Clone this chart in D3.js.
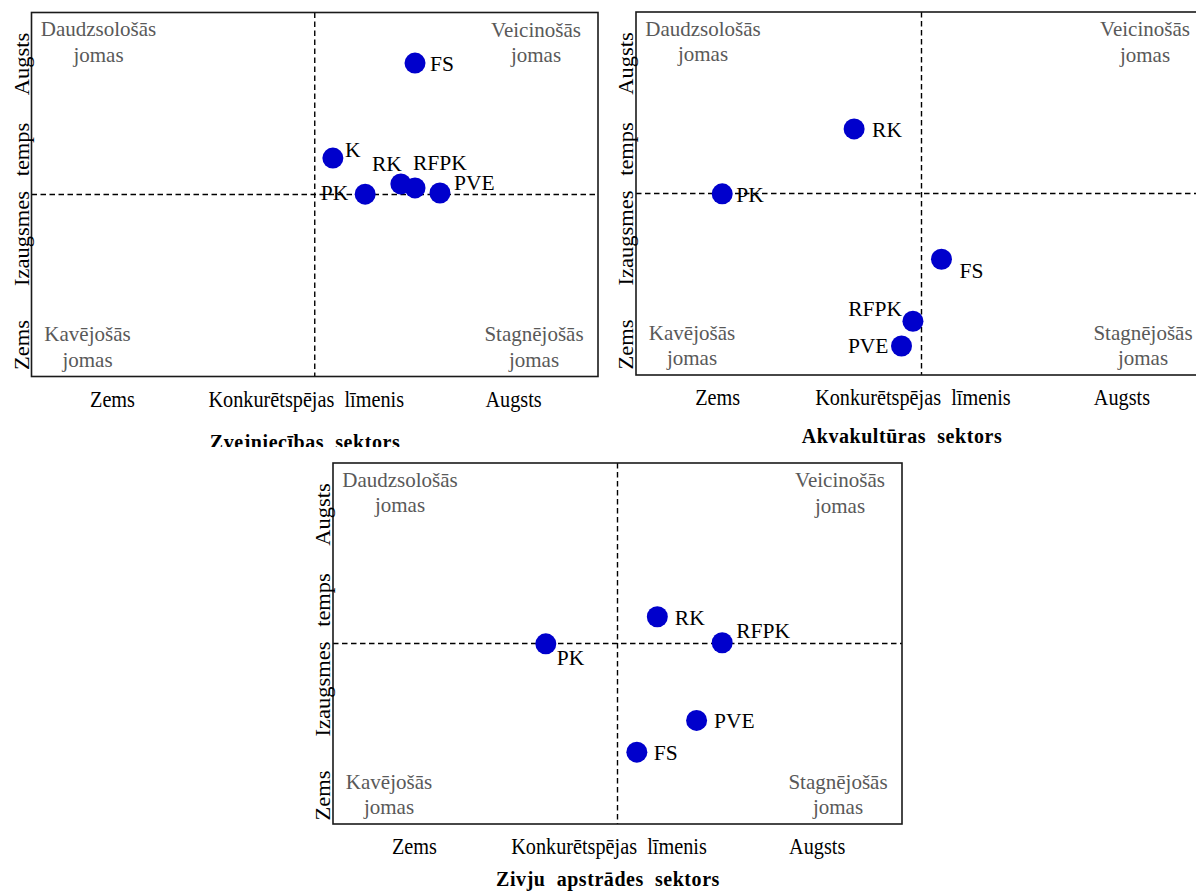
<!DOCTYPE html>
<html>
<head>
<meta charset="utf-8">
<script src="https://cdnjs.cloudflare.com/ajax/libs/d3/7.8.5/d3.min.js"></script>
<style>
  body { margin: 0; background: #fff; }
  text { font-family: "Liberation Serif", "Times New Roman", serif; white-space: pre; }
</style>
</head>
<body>
<div id="vis"></div>
<script>
// data (0..10 on both axes, 5 = middle of the matrix)
var zvejLabels = ["FS", "K", "PK", "RK", "RFPK", "PVE"];
var zvejX = [6.77, 5.32, 5.89, 6.52, 6.77, 7.21];
var zvejY = [8.61, 6.00, 5.01, 5.29, 5.18, 5.04];

var akvaLabels = ["RK", "PK", "FS", "RFPK", "PVE"];
var akvaX = [3.82, 1.51, 5.35, 4.85, 4.65];
var akvaY = [6.78, 4.99, 3.19, 1.48, 0.80];

var apstrLabels = ["PK", "RK", "RFPK", "PVE", "FS"];
var apstrX = [3.74, 5.70, 6.84, 6.39, 5.34];
var apstrY = [4.99, 5.74, 5.02, 2.87, 1.99];

var titles = ["Zvejniecības  sektors", "Akvakultūras  sektors", "Zivju  apstrādes  sektors"];
var xTickLabels = ["Zems", "Konkurētspējas  līmenis", "Augsts"];
var yTickLabels = ["Augsts", "temps", "Izaugsmes", "Zems"];
var quadrantNames = [["Daudzsološās", "jomas"], ["Veicinošās", "jomas"],
                     ["Kavējošās", "jomas"], ["Stagnējošās", "jomas"]];

var opts = {
  "width": 1196,
  "height": 893,
  "r": 10.5,
  "dot": "#0000CC",
  "grey": "#595959",
  "squeeze": 0.9
};

// frame of each panel and where its title sits
var panels = [
  { "labels": zvejLabels, "xs": zvejX, "ys": zvejY, "left": 31.5, "right": 598, "top": 12.5, "bottom": 376.5,
    "title_x": 305, "title_y": 449, "clip": 447,
    "offs": { "FS": [15, 8, "start"], "K": [12, -1, "start"], "PK": [-17, 6, "end"],
              "RK": [1, -13, "end"], "RFPK": [-2, -18, "start"], "PVE": [14, -3, "start"] } },
  { "labels": akvaLabels, "xs": akvaX, "ys": akvaY, "left": 636, "right": 1207, "top": 12, "bottom": 375,
    "title_x": 902, "title_y": 443,
    "offs": { "RK": [18, 8, "start"], "PK": [14, 8, "start"], "FS": [18, 19, "start"],
              "RFPK": [-11, -5, "end"], "PVE": [-13, 7, "end"] } },
  { "labels": apstrLabels, "xs": apstrX, "ys": apstrY, "left": 333, "right": 902, "top": 463, "bottom": 824,
    "title_x": 608, "title_y": 886,
    "offs": { "PK": [11, 21, "start"], "RK": [17.5, 8, "start"], "RFPK": [14, -5, "start"],
              "PVE": [17.5, 8, "start"], "FS": [17, 8, "start"] } }
];

var svg = d3.select("#vis")
  .append("svg")
  .attr("width", opts.width)
  .attr("height", opts.height);

svg.append("defs").append("clipPath")
  .attr("id", "clip1")
  .append("rect")
  .attr("x", 0).attr("y", 0)
  .attr("width", opts.width).attr("height", 447);

function draw_panel(p, i) {
  var g = svg.append("g");
  var x = d3.scaleLinear().domain([0, 10]).range([p.left, p.right]);
  var y = d3.scaleLinear().domain([0, 10]).range([p.bottom, p.top]);
  var w = p.right - p.left;
  var h = p.bottom - p.top;

  // dashed quadrant lines
  g.append("line")
    .attr("x1", x(5)).attr("x2", x(5))
    .attr("y1", p.top).attr("y2", p.bottom)
    .attr("stroke", "#000").attr("stroke-width", 1.4)
    .attr("stroke-dasharray", "5.5,3.5");
  g.append("line")
    .attr("x1", p.left).attr("x2", p.right)
    .attr("y1", y(5)).attr("y2", y(5))
    .attr("stroke", "#000").attr("stroke-width", 1.4)
    .attr("stroke-dasharray", "5.5,3.5");

  g.append("rect")
    .attr("x", p.left).attr("y", p.top)
    .attr("width", w).attr("height", h)
    .attr("fill", "none")
    .attr("stroke", "#1a1a1a")
    .attr("stroke-width", 1.6);

  // quadrant names
  var qpos = [
    [p.left + 67, p.top + 23.5],
    [p.right - 62, p.top + 24],
    [p.left + 56, p.bottom - 35.5],
    [p.right - 64, p.bottom - 35.5]
  ];
  quadrantNames.forEach(function(q, k) {
    var t = g.append("text")
      .attr("text-anchor", "middle")
      .attr("font-size", 21)
      .attr("fill", opts.grey);
    q.forEach(function(line, j) {
      t.append("tspan")
        .attr("x", qpos[k][0])
        .attr("y", qpos[k][1] + j * 25.5)
        .text(line);
    });
  });

  // bottom labels (the source image is a bit narrow, so squeeze them)
  var xfrac = [0.143, 0.485, 0.851];
  g.selectAll(".xlab")
    .data(xTickLabels)
    .enter()
    .append("text")
    .attr("transform", function(d, k) {
      return "translate(" + (p.left + w * xfrac[k]) + "," + (p.bottom + 30) + ") scale(" + opts.squeeze + ",1)";
    })
    .attr("text-anchor", "middle")
    .attr("font-size", 22.5)
    .text(function(d) { return d; });

  // side labels, rotated
  var yoff = [51.5, 137, 226, 332.5];
  g.selectAll(".ylab")
    .data(yTickLabels)
    .enter()
    .append("text")
    .attr("transform", function(d, k) {
      return "translate(" + (p.left - 3) + "," + (p.top + yoff[k]) + ") rotate(-90) scale(1," + opts.squeeze + ")";
    })
    .attr("text-anchor", "middle")
    .attr("font-size", 22.5)
    .text(function(d) { return d; });

  // points
  var pts = p.labels.map(function(l, k) { return { "label": l, "x": p.xs[k], "y": p.ys[k] }; });
  g.selectAll(".pt")
    .data(pts)
    .enter()
    .append("circle")
    .attr("cx", function(d) { return x(d.x); })
    .attr("cy", function(d) { return y(d.y); })
    .attr("r", opts.r)
    .attr("fill", opts.dot);

  g.selectAll(".ptlab")
    .data(pts)
    .enter()
    .append("text")
    .attr("x", function(d) { return x(d.x) + p.offs[d.label][0]; })
    .attr("y", function(d) { return y(d.y) + p.offs[d.label][1]; })
    .attr("text-anchor", function(d) { return p.offs[d.label][2]; })
    .attr("font-size", 21.5)
    .attr("fill", "#000")
    .text(function(d) { return d.label; });

  // title; the first one is cut off by the panel below it in the source
  var tg = g.append("g");
  if (p.clip) {
    tg.attr("clip-path", "url(#clip1)");
  }
  tg.append("text")
    .attr("transform", "translate(" + p.title_x + "," + p.title_y + ") scale(0.93,1)")
    .attr("text-anchor", "middle")
    .attr("font-size", 21.5)
    .attr("font-weight", "bold")
    .attr("letter-spacing", 0.6)
    .text(titles[i]);
}

panels.forEach(draw_panel);
</script>
</body>
</html>
